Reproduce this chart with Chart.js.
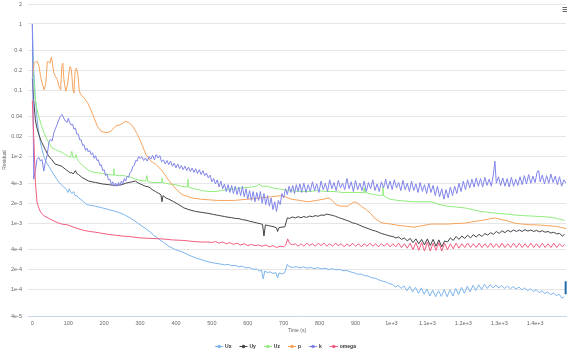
<!DOCTYPE html>
<html><head><meta charset="utf-8">
<script src="https://cdn.jsdelivr.net/npm/chart.js@4/dist/chart.umd.min.js"></script>
<style>html,body{margin:0;padding:0;background:#fff;}#wrap{width:567px;height:353px;position:relative;}</style>
</head><body><div id="wrap"><canvas id="c" width="567" height="353"></canvas></div>
<script>
const seriesNames = ['Ux','Uy','Uz','p','k','omega'];
const seriesColors = ['#7cb5ec','#434348','#90ed7d','#f7a35c','#8085e9','#f15c80'];

const ux = [[0,1],[4,0.2],[8.6,0.0725],[15,0.03],[22.6,0.0164],[27,0.013],[32,0.0101],[39,0.0083],[46,0.0072],[53,0.0062],[60,0.0054],[69,0.0045],[78,0.0039],[88,0.0035],[95,0.0032],[99,0.0029],[103,0.0033],[107,0.0029],[111,0.0028],[115,0.003],[119,0.0026],[124,0.0026],[129,0.0024],[134,0.0023],[143,0.0021],[152,0.0019],[164,0.00185],[176,0.0018],[195,0.0017],[213,0.0016],[227,0.00153],[241,0.00145],[255,0.00135],[269,0.00123],[283,0.0011],[297,0.00097],[311,0.00086],[325,0.00076],[338,0.00066],[352,0.00058],[366,0.00051],[380,0.00045],[398,0.0004],[417,0.00037],[436,0.00033],[455,0.0003],[473,0.00028],[492,0.00026],[508,0.00025],[525,0.000242],[535,0.000235],[545,0.00024],[555,0.000228],[565,0.000232],[575,0.00022],[585,0.000225],[595,0.000212],[605,0.000215],[615,0.000202],[625,0.000205],[632,0.00019],[638,0.000198],[643,0.000145],[647,0.00019],[655,0.00018],[662,0.000185],[670,0.000175],[678,0.00018],[683,0.00015],[687,0.000178],[695,0.000172],[703,0.00018],[710,0.00024],[715,0.000222],[725,0.000215],[735,0.000222],[745,0.000212],[755,0.00022],[765,0.00021],[775,0.000216],[785,0.000206],[795,0.000214],[805,0.000205],[815,0.00021],[825,0.0002],[835,0.000206],[845,0.000198],[855,0.000202],[865,0.000192],[875,0.000194],[885,0.000185],[895,0.00018],[905,0.00017],[915,0.000172],[925,0.000162],[935,0.00016],[945,0.00015],[955,0.000148],[965,0.00014],[975,0.000134],[985,0.00013],[995,0.000122],[1003,0.00012],[1011,0.000108],[1019,0.000116],[1027,0.000104],[1035,0.000114],[1043,0.000096],[1051,0.000112],[1059,0.000092],[1067,0.000108],[1075,0.000088],[1083,0.000106],[1091,0.000085],[1099,0.000102],[1107,0.00008],[1115,0.000098],[1123,0.000078],[1131,0.000096],[1139,0.000079],[1147,0.0001],[1155,0.000078],[1163,0.000099],[1171,0.00008],[1179,0.000104],[1187,0.000084],[1195,0.000108],[1203,0.000088],[1211,0.000112],[1219,0.000092],[1227,0.000116],[1235,0.000097],[1243,0.000118],[1251,0.0001],[1259,0.00012],[1267,0.000104],[1275,0.000119],[1283,0.000106],[1291,0.000117],[1299,0.000105],[1307,0.000115],[1315,0.000104],[1323,0.000113],[1331,0.000103],[1339,0.000111],[1347,0.000102],[1355,0.000109],[1363,0.000099],[1371,0.000106],[1379,0.000096],[1387,0.000103],[1395,0.000093],[1403,0.0001],[1411,0.00009],[1419,0.000096],[1427,0.000087],[1435,0.000092],[1443,0.000084],[1451,0.000089],[1459,0.000081],[1467,0.000085],[1475,0.000074],[1481,0.000078]];

const uy = [[0,0.15],[4,0.07],[8.6,0.036],[13,0.027],[18,0.0217],[25,0.017],[36,0.0129],[45,0.0103],[54,0.0091],[63,0.0078],[72,0.0075],[82,0.0072],[92,0.0065],[101,0.006],[106,0.0057],[110,0.0058],[114,0.0055],[120,0.0062],[124,0.0056],[129,0.0054],[138,0.0049],[147,0.0046],[157,0.0043],[166,0.0042],[176,0.0041],[195,0.0039],[213,0.0038],[231,0.0037],[249,0.0038],[260,0.004],[269,0.0041],[278,0.0042],[287,0.0043],[296,0.004],[305,0.0038],[315,0.0036],[325,0.0035],[334,0.0032],[343,0.003],[352,0.0028],[358,0.0027],[361,0.0021],[364,0.0026],[372,0.0024],[380,0.0023],[394,0.0021],[408,0.0019],[422,0.0017],[436,0.0016],[455,0.0015],[473,0.00145],[492,0.0014],[505,0.00135],[515,0.00132],[525,0.00129],[535,0.00126],[545,0.00123],[555,0.00121],[565,0.00118],[575,0.00117],[585,0.00113],[595,0.00111],[605,0.00107],[615,0.00104],[625,0.00101],[635,0.00098],[641,0.00096],[645,0.00064],[649,0.00094],[657,0.00092],[665,0.0009],[673,0.00088],[680,0.00085],[683,0.00075],[687,0.00086],[695,0.00087],[703,0.00088],[710,0.0012],[716,0.00118],[724,0.00124],[732,0.0012],[740,0.00125],[748,0.00121],[756,0.00126],[764,0.00122],[772,0.00128],[780,0.00125],[788,0.0013],[796,0.00127],[804,0.00133],[812,0.00131],[820,0.00137],[828,0.00134],[836,0.00131],[844,0.00127],[852,0.00122],[860,0.00118],[868,0.00114],[876,0.0011],[884,0.00106],[892,0.00101],[900,0.00099],[908,0.00095],[916,0.00091],[924,0.00087],[932,0.00084],[940,0.00081],[948,0.00078],[956,0.00076],[964,0.00073],[972,0.0007],[980,0.00068],[988,0.00066],[996,0.00064],[1004,0.00063],[1012,0.0006],[1020,0.00062],[1028,0.00057],[1036,0.0006],[1044,0.00054],[1052,0.00059],[1060,0.00051],[1068,0.00058],[1076,0.00049],[1084,0.00057],[1092,0.00047],[1100,0.00058],[1108,0.00046],[1116,0.00057],[1124,0.00045],[1132,0.00056],[1140,0.00044],[1148,0.00054],[1156,0.00052],[1164,0.0006],[1172,0.00055],[1180,0.00063],[1188,0.00057],[1196,0.00064],[1204,0.00059],[1212,0.00066],[1220,0.0006],[1228,0.00067],[1236,0.00062],[1244,0.00068],[1252,0.00063],[1260,0.0007],[1268,0.00066],[1276,0.00072],[1284,0.00068],[1292,0.00075],[1300,0.0007],[1308,0.00077],[1316,0.00072],[1324,0.00078],[1332,0.00074],[1340,0.00079],[1348,0.00075],[1356,0.00079],[1364,0.00075],[1372,0.0008],[1380,0.00076],[1388,0.00079],[1396,0.00075],[1404,0.00078],[1412,0.00074],[1420,0.00077],[1428,0.00073],[1436,0.00075],[1444,0.00071],[1452,0.00073],[1460,0.00069],[1468,0.0007],[1476,0.00064],[1482,0.00068]];

const uz = [[0,0.4],[4,0.15],[8.6,0.0725],[13,0.052],[18,0.0404],[25,0.03],[32,0.0233],[39,0.019],[46,0.0164],[55,0.0135],[64,0.0129],[73,0.0122],[82,0.0117],[92,0.0108],[101,0.0101],[106,0.0098],[110,0.0121],[113,0.0098],[118,0.0096],[122,0.0108],[125,0.0092],[129,0.0085],[136,0.0078],[143,0.0072],[152,0.0065],[162,0.006],[176,0.0058],[195,0.0056],[213,0.0054],[225,0.0053],[227,0.0066],[229,0.0053],[240,0.0052],[255,0.0052],[269,0.005],[280,0.0048],[287,0.0046],[300,0.0044],[315,0.0043],[319,0.0052],[322,0.0042],[335,0.0041],[350,0.0041],[359,0.0041],[361,0.0048],[363,0.0041],[380,0.0039],[399,0.0038],[415,0.0036],[432,0.0035],[433,0.0046],[435,0.0035],[450,0.0033],[472,0.0031],[492,0.003],[510,0.003],[525,0.0031],[545,0.0032],[561,0.0033],[585,0.0034],[609,0.0035],[625,0.0036],[631,0.0039],[637,0.0036],[655,0.0036],[670,0.0034],[683,0.0033],[700,0.0032],[711,0.0031],[730,0.00305],[748,0.003],[770,0.003],[795,0.0031],[818,0.003],[840,0.003],[865,0.0029],[888,0.0029],[910,0.0029],[923,0.0029],[924,0.0034],[926,0.0029],[950,0.0027],[970,0.0026],[975,0.0026],[976,0.0035],[978,0.0026],[995,0.0023],[1018,0.0022],[1040,0.00215],[1063,0.0021],[1087,0.0021],[1111,0.0021],[1135,0.0019],[1157,0.0018],[1180,0.00175],[1203,0.0017],[1226,0.0016],[1250,0.0015],[1274,0.00145],[1297,0.0014],[1320,0.00137],[1343,0.00133],[1367,0.0013],[1391,0.00128],[1414,0.00126],[1436,0.00124],[1460,0.00118],[1482,0.0011]];

const p = [[0,0.16],[5,0.257],[9.5,0.272],[14,0.272],[19,0.229],[23,0.162],[28,0.125],[33,0.102],[37,0.122],[42,0.272],[46,0.27],[49,0.257],[53,0.317],[56,0.257],[60,0.183],[65,0.16],[70,0.145],[74,0.115],[79,0.102],[82,0.229],[85,0.257],[88,0.145],[93,0.097],[98,0.12],[102,0.183],[105,0.229],[109,0.205],[113,0.102],[116,0.091],[119,0.193],[123,0.217],[127,0.172],[131,0.097],[135,0.086],[144,0.077],[154,0.065],[163,0.051],[172,0.0385],[181,0.029],[191,0.0243],[200,0.0235],[209,0.023],[219,0.0243],[232,0.029],[246,0.0306],[260,0.0343],[270,0.0325],[279,0.029],[293,0.0217],[307,0.0145],[316,0.0109],[330,0.0086],[344,0.0077],[362,0.0061],[380,0.0044],[399,0.0033],[417,0.0027],[445,0.0024],[469,0.0023],[490,0.00225],[516,0.0022],[540,0.0022],[561,0.0022],[600,0.0023],[637,0.0024],[665,0.0025],[693,0.0026],[705,0.0025],[720,0.0023],[745,0.0022],[767,0.0021],[790,0.0022],[812,0.0023],[826,0.0024],[835,0.0022],[845,0.0019],[860,0.0018],[878,0.0018],[890,0.002],[896,0.0021],[905,0.002],[916,0.0018],[930,0.0016],[942,0.0014],[952,0.0012],[962,0.0011],[971,0.00102],[985,0.00099],[999,0.00097],[1018,0.00093],[1040,0.0009],[1063,0.00087],[1087,0.00092],[1111,0.00097],[1135,0.00097],[1157,0.00097],[1180,0.00099],[1203,0.001],[1226,0.00105],[1250,0.0011],[1270,0.00115],[1287,0.0012],[1305,0.00114],[1324,0.00108],[1343,0.001],[1363,0.00097],[1385,0.00095],[1408,0.00094],[1430,0.00092],[1454,0.0009],[1470,0.00087],[1486,0.00083]];

const k = [[0,1],[4,0.0046],[9,0.0065],[13,0.0091],[18,0.0098],[23,0.0086],[27,0.0091],[32,0.0061],[36,0.0082],[41,0.0103],[46,0.0163],[50,0.0182],[55,0.0172],[60,0.0229],[65,0.027],[69,0.0306],[74,0.036],[78,0.041],[83,0.0434],[88,0.038],[92,0.0344],[97,0.033],[100,0.038],[104,0.033],[108,0.03],[112,0.031],[116,0.026],[120,0.027],[124,0.022],[128,0.022],[132,0.018],[136,0.018],[140,0.0148],[144,0.0152],[148,0.0125],[152,0.0135],[156,0.0118],[160,0.0125],[164,0.0108],[168,0.0115],[172,0.0095],[176,0.0104],[180,0.0088],[184,0.009],[188,0.0074],[192,0.0076],[196,0.0062],[200,0.0064],[204,0.0052],[208,0.0055],[212,0.0045],[216,0.0046],[220,0.0038],[224,0.0042],[228,0.0036],[232,0.004],[236,0.0036],[240,0.0041],[244,0.0037],[248,0.0043],[252,0.0039],[256,0.0047],[260,0.0043],[264,0.0051],[268,0.0049],[272,0.0058],[276,0.006],[280,0.0072],[284,0.0074],[288,0.0088],[292,0.0086],[296,0.0101],[300,0.0094],[305,0.01],[310,0.0088],[315,0.0096],[320,0.0086],[325,0.0101],[330,0.0092],[335,0.0105],[340,0.009],[345,0.0108],[350,0.0096],[355,0.0104],[360,0.0084],[365,0.009],[370,0.0078],[375,0.0088],[380,0.0076],[385,0.0086],[390,0.0072],[395,0.008],[400,0.0068],[405,0.0078],[410,0.0066],[415,0.0074],[420,0.0064],[425,0.0072],[430,0.0062],[435,0.007],[440,0.006],[445,0.0068],[450,0.0058],[455,0.0066],[460,0.0056],[465,0.0064],[470,0.0054],[475,0.0062],[480,0.0052],[485,0.0057],[490,0.0048],[495,0.0053],[500,0.0042],[505,0.0047],[510,0.0039],[515,0.0045],[520,0.0035],[525,0.0043],[530,0.0033],[535,0.0039],[540,0.003],[545,0.0038],[550,0.0029],[555,0.0037],[560,0.0028],[565,0.0036],[570,0.0027],[575,0.0035],[580,0.0026],[585,0.0036],[590,0.0025],[595,0.0033],[600,0.0023],[605,0.0031],[610,0.0022],[615,0.003],[620,0.0021],[625,0.0029],[630,0.0022],[635,0.003],[640,0.002],[645,0.0028],[650,0.0019],[655,0.0026],[660,0.0018],[665,0.0024],[670,0.0016],[675,0.0021],[680,0.0015],[685,0.0022],[690,0.0019],[695,0.0028],[700,0.0024],[705,0.0033],[710,0.0027],[715,0.0036],[720,0.0029],[725,0.0037],[730,0.0028],[735,0.0038],[740,0.003],[745,0.0039],[750,0.0029],[756,0.004],[762,0.0029],[768,0.0038],[774,0.003],[780,0.0042],[786,0.0031],[792,0.0039],[798,0.0029],[804,0.0043],[810,0.0032],[816,0.004],[822,0.003],[828,0.0045],[834,0.0033],[840,0.0041],[846,0.0031],[852,0.0044],[858,0.0034],[864,0.004],[870,0.0032],[876,0.0047],[882,0.0033],[888,0.0042],[894,0.003],[900,0.0044],[906,0.0032],[912,0.004],[918,0.0031],[924,0.0043],[930,0.003],[936,0.0041],[942,0.0033],[948,0.0045],[954,0.0031],[960,0.0039],[966,0.003],[972,0.0042],[978,0.0034],[984,0.0046],[990,0.0033],[996,0.0043],[1002,0.0032],[1008,0.0045],[1014,0.0034],[1020,0.0041],[1026,0.0031],[1032,0.0044],[1038,0.0032],[1044,0.004],[1050,0.003],[1056,0.0043],[1062,0.0031],[1068,0.0039],[1074,0.0029],[1080,0.0041],[1086,0.003],[1092,0.0038],[1098,0.0028],[1104,0.004],[1110,0.0029],[1116,0.0037],[1122,0.0026],[1128,0.0036],[1134,0.0025],[1140,0.0033],[1146,0.0023],[1152,0.0032],[1158,0.0024],[1164,0.0035],[1170,0.0026],[1176,0.0036],[1182,0.0028],[1188,0.004],[1194,0.003],[1200,0.0043],[1206,0.0032],[1212,0.0045],[1218,0.0034],[1224,0.0046],[1230,0.0035],[1236,0.0048],[1242,0.0036],[1248,0.0047],[1254,0.0035],[1260,0.0049],[1266,0.0037],[1272,0.0046],[1278,0.0036],[1284,0.0055],[1288,0.0086],[1292,0.004],[1298,0.005],[1304,0.0037],[1310,0.0048],[1316,0.0036],[1322,0.0047],[1328,0.0035],[1334,0.0049],[1340,0.0036],[1346,0.0046],[1352,0.0037],[1358,0.005],[1364,0.0038],[1370,0.0052],[1376,0.0039],[1382,0.0054],[1388,0.004],[1394,0.0051],[1400,0.0041],[1406,0.006],[1410,0.0062],[1414,0.0042],[1420,0.0053],[1426,0.0039],[1432,0.0052],[1438,0.004],[1444,0.0055],[1450,0.0041],[1456,0.0051],[1462,0.0038],[1468,0.005],[1474,0.0036],[1480,0.0045],[1486,0.004]];

const omega = [[0,0.07],[4,0.02],[8.6,0.0041],[13,0.0021],[18,0.0017],[23,0.00147],[32,0.0013],[46,0.00118],[60,0.00108],[70,0.00102],[82,0.00097],[99,0.00094],[115,0.00087],[130,0.00082],[143,0.00078],[160,0.00075],[177,0.00073],[190,0.00071],[210,0.00068],[230,0.00066],[250,0.00064],[269,0.00063],[300,0.0006],[330,0.00059],[361,0.00058],[390,0.00056],[420,0.00055],[450,0.00053],[470,0.00052],[492,0.00052],[500,0.00051],[510,0.00053],[520,0.0005],[530,0.00052],[540,0.00049],[550,0.00051],[560,0.00048],[570,0.0005],[580,0.00047],[590,0.00049],[600,0.00046],[610,0.00048],[620,0.00046],[630,0.00047],[640,0.00045],[650,0.00047],[660,0.00044],[670,0.00046],[680,0.00043],[690,0.00045],[700,0.00044],[706,0.00047],[711,0.00058],[716,0.0005],[724,0.00047],[732,0.00049],[740,0.00045],[748,0.00049],[756,0.00045],[764,0.0005],[772,0.00046],[780,0.00049],[788,0.00045],[796,0.0005],[804,0.00046],[812,0.0005],[820,0.00045],[828,0.00049],[836,0.00045],[844,0.0005],[852,0.00046],[860,0.00049],[868,0.00044],[876,0.00049],[884,0.00045],[892,0.0005],[900,0.00045],[908,0.00049],[916,0.00044],[924,0.00049],[932,0.00045],[940,0.0005],[948,0.00045],[956,0.00049],[964,0.00044],[972,0.00049],[980,0.00045],[988,0.0005],[996,0.00044],[1004,0.00049],[1012,0.00044],[1020,0.0005],[1028,0.00043],[1036,0.00049],[1044,0.00042],[1052,0.0005],[1060,0.0004],[1068,0.00051],[1076,0.00039],[1084,0.00051],[1092,0.00038],[1100,0.00052],[1108,0.00038],[1116,0.0005],[1124,0.00039],[1132,0.00051],[1140,0.00038],[1148,0.0005],[1156,0.0004],[1164,0.00049],[1172,0.00041],[1180,0.0005],[1188,0.00042],[1196,0.00049],[1204,0.00043],[1212,0.0005],[1220,0.00043],[1228,0.00049],[1236,0.00043],[1244,0.0005],[1252,0.00043],[1260,0.00049],[1268,0.00043],[1276,0.0005],[1284,0.00043],[1292,0.00049],[1300,0.00043],[1308,0.0005],[1316,0.00043],[1324,0.00049],[1332,0.00043],[1340,0.0005],[1348,0.00043],[1356,0.0005],[1364,0.00043],[1372,0.00049],[1380,0.00043],[1388,0.0005],[1396,0.00043],[1404,0.00049],[1412,0.00043],[1420,0.0005],[1428,0.00043],[1436,0.00049],[1444,0.00043],[1452,0.0005],[1460,0.00043],[1468,0.00049],[1476,0.00044],[1482,0.00048]];

const endMarker = [[1485,0.000133],[1485,0.000085]];

const xTickValues = [0,100,200,300,400,500,600,700,800,900,1000,1100,1200,1300,1400];
const xTickLabels = ['0','100','200','300','400','500','600','700','800','900','1e+3','1.1e+3','1.2e+3','1.3e+3','1.4e+3'];
const yTickValues = [2,1,0.4,0.2,0.1,0.04,0.02,0.01,0.004,0.002,0.001,0.0004,0.0002,0.0001,0.00004];
const yTickLabels = ['2','1','0.4','0.2','0.1','0.04','0.02','1e-2','4e-3','2e-3','1e-3','4e-4','2e-4','1e-4','4e-5'];

const FONT = '"Liberation Sans", Arial, sans-serif';
const toPts = a => a.map(([x, y]) => ({x, y}));
const allSeries = [ux, uy, uz, p, k, omega];
const datasets = allSeries.map((d, i) => ({
  label: seriesNames[i], data: toPts(d), borderColor: seriesColors[i], backgroundColor: seriesColors[i],
  borderWidth: 1, pointRadius: 0, tension: 0, fill: false, order: 10 - i, inLegend: true
}));
datasets.push({label: '', data: toPts(endMarker), borderColor: '#1f6cab', borderWidth: 2, pointRadius: 0, fill: false, order: 0, clip: false, inLegend: false});

const extras = {
  id: 'extras',
  afterDraw(chart) {
    const ctx = chart.ctx;
    ctx.save();
    ctx.font = 'bold 5px ' + FONT;
    const items = chart.data.datasets.filter(d => d.inLegend);
    const symW = 8, symGap = 2, itemGap = 8;
    const widths = items.map(d => symW + symGap + ctx.measureText(d.label).width);
    const total = widths.reduce((a, b) => a + b, 0) + itemGap * (items.length - 1);
    let x = 285.5 - total / 2;
    const y = 346;
    items.forEach((d, i) => {
      ctx.strokeStyle = d.borderColor; ctx.lineWidth = 1;
      ctx.beginPath(); ctx.moveTo(x, y + 0.5); ctx.lineTo(x + symW, y + 0.5); ctx.stroke();
      ctx.fillStyle = d.borderColor;
      ctx.beginPath(); ctx.arc(x + symW / 2, y + 0.5, 1.8, 0, Math.PI * 2); ctx.fill();
      ctx.fillStyle = '#333'; ctx.textBaseline = 'middle'; ctx.textAlign = 'left';
      ctx.fillText(d.label, x + symW + symGap, y + 0.5);
      x += widths[i] + itemGap;
    });
    ctx.strokeStyle = '#666'; ctx.lineWidth = 1;
    [7.5, 9.5, 11.5].forEach(yy => { ctx.beginPath(); ctx.moveTo(562.5, yy); ctx.lineTo(567, yy); ctx.stroke(); });
    ctx.restore();
  }
};

new Chart(document.getElementById('c'), {
  type: 'line',
  data: {datasets},
  options: {
    responsive: false, animation: false, devicePixelRatio: 1, events: [],
    layout: {padding: {top: 0, right: 1, left: 0, bottom: 17}},
    plugins: {legend: {display: false}, tooltip: {enabled: false}},
    scales: {
      x: {
        type: 'linear', min: -12, max: 1486,
        afterBuildTicks: s => { s.ticks = xTickValues.map(v => ({value: v})); },
        afterFit: s => { s.height = 20; },
        ticks: {callback: v => { const i = xTickValues.indexOf(v); return i >= 0 ? xTickLabels[i] : ''; },
          font: {size: 5.5, family: FONT}, color: '#666', padding: 4, maxRotation: 0, autoSkip: false},
        grid: {display: true, color: 'rgba(0,0,0,0)', drawTicks: false},
        border: {display: true, color: '#ccd6eb', width: 1},
        title: {display: true, text: 'Time (s)', font: {size: 5, family: FONT}, color: '#666', padding: {top: 0, bottom: 2}}
      },
      y: {
        type: 'logarithmic', min: 0.00004, max: 2,
        afterBuildTicks: s => { s.ticks = yTickValues.map(v => ({value: v})); },
        afterFit: s => { s.width = 28; s.paddingTop = 4; s.paddingBottom = 0; },
        ticks: {callback: v => { const i = yTickValues.indexOf(v); return i >= 0 ? yTickLabels[i] : ''; },
          font: {size: 5.5, family: FONT}, color: '#666', padding: 6, autoSkip: false},
        grid: {color: '#e6e6e6', drawTicks: false, lineWidth: 1},
        border: {display: false},
        title: {display: true, text: 'Residual', font: {size: 5, family: FONT}, color: '#666', padding: {top: 2, bottom: 0}}
      }
    }
  },
  plugins: [extras]
});
</script>
</body></html>
